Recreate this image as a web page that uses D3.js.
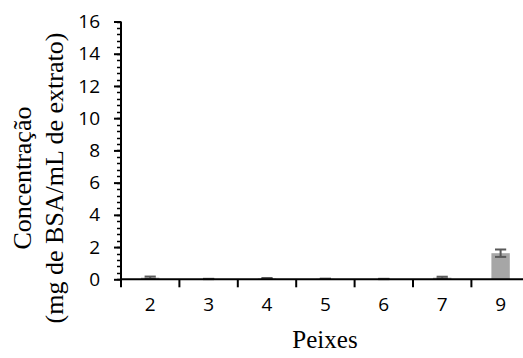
<!DOCTYPE html>
<html>
<head>
<meta charset="utf-8">
<script src="https://cdn.jsdelivr.net/npm/d3@7"></script>
<style>
  html, body { margin: 0; padding: 0; background: #fff; }
  svg { display: block; }
</style>
</head>
<body>
<svg id="chart" width="523" height="358"></svg>
<script>
// Protein concentration per fish sample
const peixes = ["2", "3", "4", "5", "6", "7", "9"];
const concentracao = [0.10, 0.02, 0.05, 0.03, 0.02, 0.10, 1.62];
const erro = [0.07, 0.01, 0.03, 0.01, 0.01, 0.06, 0.23];
const yTicks = [0, 2, 4, 6, 8, 10, 12, 14, 16];

const svg = d3.select("#chart");
const x0 = 121, yBottom = 279.3, yTop = 21.5, step = 58.4;

const x = d3.scaleBand()
  .domain(peixes)
  .range([x0, x0 + step * peixes.length])
  .paddingInner(0).paddingOuter(0);

const y = d3.scaleLinear().domain([0, 16]).range([yBottom, yTop]);

const barW = 18.4;
const barColor = "#a6a6a6";
const errColor = "#595959";

// bars
svg.append("g").selectAll("rect")
  .data(peixes)
  .join("rect")
  .attr("x", d => x(d) + x.bandwidth() / 2 - barW / 2)
  .attr("width", barW)
  .attr("y", (d, i) => y(concentracao[i]))
  .attr("height", (d, i) => yBottom - y(concentracao[i]))
  .attr("fill", barColor);

// error bars
const eg = svg.append("g").attr("stroke", errColor).attr("stroke-width", 2);
peixes.forEach((d, i) => {
  const cx = x(d) + x.bandwidth() / 2;
  const hi = y(concentracao[i] + erro[i]);
  const lo = y(Math.max(0, concentracao[i] - erro[i]));
  const cap = 5.6;
  eg.append("line").attr("x1", cx).attr("x2", cx).attr("y1", hi).attr("y2", lo);
  eg.append("line").attr("x1", cx - cap).attr("x2", cx + cap).attr("y1", hi).attr("y2", hi);
  eg.append("line").attr("x1", cx - cap).attr("x2", cx + cap).attr("y1", lo).attr("y2", lo);
});

// y axis: minor ticks
const minor = d3.range(0, 16.0001, 0.4);
const yg = svg.append("g");
yg.selectAll("line.minor")
  .data(minor)
  .join("line")
  .attr("x1", x0 - 4).attr("x2", x0)
  .attr("y1", d => Math.round(y(d)) + 0.5).attr("y2", d => Math.round(y(d)) + 0.5)
  .attr("stroke", "#000").attr("stroke-width", 1.5);

const yAxis = d3.axisLeft(y).tickValues(yTicks).tickSize(7).tickPadding(14).tickFormat(d3.format("d"));
const ya = svg.append("g").attr("transform", `translate(${x0},0)`).call(yAxis);
ya.select(".domain").attr("stroke-width", 2).attr("d", `M0,${yTop}V${yBottom}`);
ya.selectAll(".tick line").attr("stroke-width", 2);
ya.selectAll(".tick text")
  .attr("font-family", "'Open Sans', sans-serif")
  .attr("font-size", 19)
  .attr("fill", "#000");

// x axis
const xAxis = d3.axisBottom(x).tickSize(0).tickPadding(18);
const xa = svg.append("g").attr("transform", `translate(0,${yBottom})`).call(xAxis);
xa.select(".domain").attr("stroke-width", 2).attr("d", `M${x0},0H${x0 + step * peixes.length}`);
xa.selectAll(".tick text")
  .attr("font-family", "'Open Sans', sans-serif")
  .attr("font-size", 19)
  .attr("fill", "#000");

// category separators
svg.append("g").selectAll("line")
  .data(d3.range(peixes.length + 1))
  .join("line")
  .attr("x1", i => x0 + i * step).attr("x2", i => x0 + i * step)
  .attr("y1", yBottom).attr("y2", yBottom + 8)
  .attr("stroke", "#000").attr("stroke-width", 2);

// axis titles
svg.append("text")
  .attr("x", 325).attr("y", 348)
  .attr("text-anchor", "middle")
  .attr("font-family", "'Liberation Serif', 'Times New Roman', serif")
  .attr("font-size", 25)
  .text("Peixes");

const yt = svg.append("text")
  .attr("transform", "translate(0,178) rotate(-90)")
  .attr("text-anchor", "middle")
  .attr("font-family", "'Liberation Serif', 'Times New Roman', serif")
  .attr("font-size", 26);
yt.append("tspan").attr("x", 0).attr("y", 31).text("Concentração");
yt.append("tspan").attr("x", 0).attr("y", 63).text("(mg de BSA/mL de extrato)");
</script>
</body>
</html>
